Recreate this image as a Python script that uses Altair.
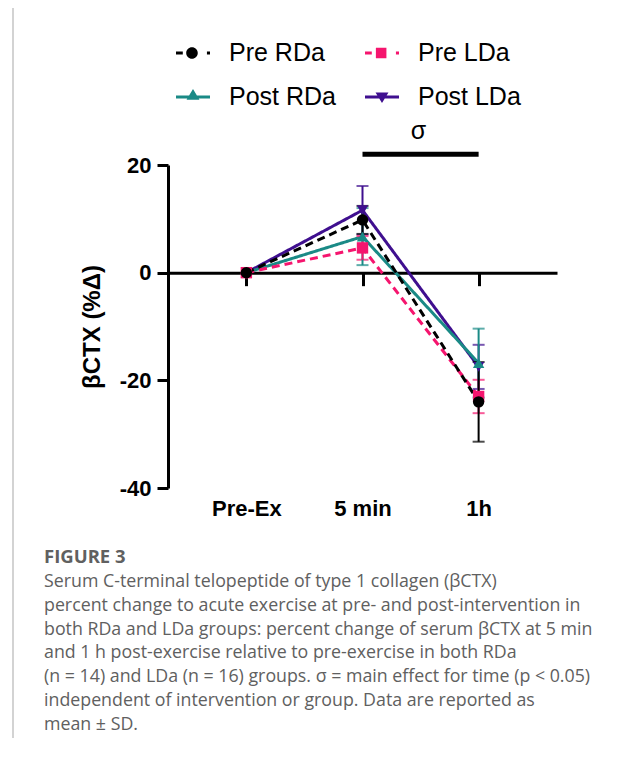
import altair as alt
import pandas as pd

# ---------------- data ----------------
times = ["Pre-Ex", "5 min", "1h"]
series = ["Pre RDa", "Pre LDa", "Post RDa", "Post LDa"]

pre_rda_mean = [0.0, 9.8, -24.0]
pre_rda_sd = [0.0, 2.6, 7.4]
pre_lda_mean = [0.0, 4.6, -23.0]
pre_lda_sd = [0.0, 2.2, 3.1]
post_rda_mean = [0.0, 6.7, -16.8]
post_rda_sd = [0.0, 5.3, 6.4]
post_lda_mean = [0.0, 11.6, -17.5]
post_lda_sd = [0.0, 4.5, 4.1]

y_ticks = [-40, -20, 0, 20]
sig_label = "σ"
sig_from, sig_to = "5 min", "1h"

colors = ["#000000", "#f5156e", "#1a8a86", "#3f0f8f"]
shapes = ["circle", "square", "triangle-up", "triangle-down"]
dashes = [[8, 5], [8, 5], [1, 0], [1, 0]]

# composite legend glyphs (line + marker), unit coordinates
legend_shapes = [
    "M-1,-0.09H-0.6V0.09H-1Z M-0.40,0A0.34,0.34 0 1,0 0.28,0A0.34,0.34 0 1,0 -0.40,0Z M0.82,-0.09H1V0.09H0.82Z",
    "M-1,-0.09H-0.6V0.09H-1Z M-0.36,-0.31H0.26V0.31H-0.36Z M0.82,-0.09H1V0.09H0.82Z",
    "M-1,-0.09H1V0.09H-1Z M0,-0.47L0.38,0.16L-0.38,0.16Z",
    "M-1,-0.09H1V0.09H-1Z M-0.38,-0.26L0.38,-0.26L0,0.36Z",
]
# legend is filled column by column: column 1 = RDa, column 2 = LDa
legend_order = ["Pre RDa", "Post RDa", "Pre LDa", "Post LDa"]

caption_head = "FIGURE 3"
caption_lines = [
    "Serum C-terminal telopeptide of type 1 collagen (βCTX)",
    "percent change to acute exercise at pre- and post-intervention in",
    "both RDa and LDa groups: percent change of serum βCTX at 5 min",
    "and 1 h post-exercise relative to pre-exercise in both RDa",
    "(n = 14) and LDa (n = 16) groups. σ = main effect for time (p < 0.05)",
    "independent of intervention or group. Data are reported as",
    "mean ± SD.",
]

means = {"Pre RDa": pre_rda_mean, "Pre LDa": pre_lda_mean,
         "Post RDa": post_rda_mean, "Post LDa": post_lda_mean}
sds = {"Pre RDa": pre_rda_sd, "Pre LDa": pre_lda_sd,
       "Post RDa": post_rda_sd, "Post LDa": post_lda_sd}

rows = []
for order, s in enumerate(["Post LDa", "Post RDa", "Pre LDa", "Pre RDa"]):
    for i, t in enumerate(times):
        m, sd = means[s][i], sds[s][i]
        rows.append({"series": s, "legend": s, "time": t, "mean": m,
                     "lo": m - sd, "hi": m + sd, "order": order})
df = pd.DataFrame(rows)
df_err = df[df["hi"] != df["lo"]]

FONT = "Liberation Sans"
CAP_FONT = "Open Sans"
Y_TITLE = "βCTX (%Δ)"

x_enc = alt.X(
    "time:N",
    sort=times,
    scale=alt.Scale(type="point", domain=times, padding=0.675),
    axis=alt.Axis(
        title=None, orient="bottom", offset=-215.33,
        domainColor="black", domainWidth=3,
        tickColor="black", tickWidth=3, tickSize=13,
        labelFont=FONT, labelFontSize=22, labelFontWeight="bold",
        labelColor="black", labelPadding=213, labelAngle=0,
    ),
)
y_scale = alt.Scale(domain=[-40, 20], nice=False, zero=False)
y_enc = alt.Y(
    "mean:Q",
    scale=y_scale,
    axis=alt.Axis(
        title=Y_TITLE, values=y_ticks, grid=False,
        labelExpr="'' + datum.value",
        domainColor="black", domainWidth=3,
        tickColor="black", tickWidth=3, tickSize=11,
        labelFont=FONT, labelFontSize=22, labelFontWeight="bold",
        labelColor="black", labelPadding=6,
        titleFont=FONT, titleFontSize=24, titleFontWeight="bold",
        titleColor="black", titlePadding=15,
    ),
)
color_main = alt.Color("series:N", scale=alt.Scale(domain=series, range=colors), legend=None)

base = alt.Chart(df)

lines = base.mark_line(strokeWidth=3).encode(
    x=x_enc, y=y_enc, color=color_main,
    strokeDash=alt.StrokeDash("series:N", scale=alt.Scale(domain=series, range=dashes), legend=None),
    detail="series:N", order="order:Q",
)

errs = alt.Chart(df_err).mark_errorbar(
    ticks=alt.MarkConfig(size=12), thickness=2
).encode(
    x=alt.X("time:N", sort=times),
    y=alt.Y("lo:Q", scale=y_scale, title=Y_TITLE),
    y2="hi:Q",
    color=color_main,
)

points = base.mark_point(filled=True, size=130, opacity=1).encode(
    x=alt.X("time:N", sort=times),
    y=alt.Y("mean:Q", title=Y_TITLE),
    color=color_main,
    shape=alt.Shape("series:N", scale=alt.Scale(domain=series, range=shapes), legend=None),
)

legend_cfg = dict(
    title=None, orient="none", legendX=8, legendY=-129, columns=2,
    symbolSize=1156, symbolOpacity=1, symbolStrokeWidth=0,
    labelFont=FONT, labelFontSize=25, labelColor="black",
    labelOffset=19, columnPadding=29, rowPadding=14, padding=0,
    labelLimit=300,
)
legend_layer = base.mark_point(filled=True, size=1156, opacity=0).encode(
    x=alt.X("time:N", sort=times),
    y=alt.Y("mean:Q", title=Y_TITLE),
    color=alt.Color("legend:N",
                    scale=alt.Scale(domain=legend_order,
                                    range=[colors[series.index(s)] for s in legend_order]),
                    legend=alt.Legend(**legend_cfg)),
    shape=alt.Shape("legend:N",
                    scale=alt.Scale(domain=legend_order,
                                    range=[legend_shapes[series.index(s)] for s in legend_order]),
                    legend=alt.Legend(**legend_cfg)),
)

sig_df = pd.DataFrame({"x1": [sig_from], "x2": [sig_to], "y": [22.0], "ty": [26.3], "label": [sig_label]})
sig_bar = alt.Chart(sig_df).mark_rule(strokeWidth=5, color="black", clip=False).encode(
    x=alt.X("x1:N", sort=times), x2="x2:N", y=alt.Y("y:Q", scale=y_scale, title=Y_TITLE),
)
sig_text = alt.Chart(sig_df).mark_text(
    font=FONT, fontSize=25, color="black", dx=56, baseline="middle", clip=False
).encode(
    x=alt.X("x1:N", sort=times), y=alt.Y("ty:Q", scale=y_scale, title=Y_TITLE), text="label:N",
)

# figure caption (real text, below the plot)
cap_df = pd.DataFrame({"k": [0]})
cap_head = alt.Chart(cap_df).mark_text(
    font=CAP_FONT, fontSize=18.5, fontWeight="bold", color="#606060",
    align="left", baseline="middle",
).encode(x=alt.value(-124), y=alt.value(392), text=alt.value(caption_head))
cap_body = alt.Chart(cap_df).mark_text(
    font=CAP_FONT, fontSize=17.8, color="#606060",
    align="left", baseline="middle", lineHeight=23.8,
).encode(x=alt.value(-124), y=alt.value(417), text=alt.value(caption_lines))

# light frame around the figure panel
frame_top = alt.Chart(cap_df).mark_rule(color="#c4c4c4", strokeWidth=2).encode(
    x=alt.value(-155), x2=alt.value(447), y=alt.value(-160),
)
frame_left = alt.Chart(cap_df).mark_rule(color="#c4c4c4", strokeWidth=1.5).encode(
    x=alt.value(-155), y=alt.value(-160), y2=alt.value(585),
)

chart = alt.layer(
    frame_top, frame_left, lines, errs, points, legend_layer, sig_bar, sig_text,
    cap_head, cap_body,
).resolve_scale(
    color="independent", shape="independent"
).properties(
    width=389, height=323,
    autosize="none",
    padding={"left": 160, "top": 157, "right": 58, "bottom": 250},
).configure(background="white").configure_view(stroke=None)

chart.save("out.html", embed_options={"renderer": "svg", "actions": False})
